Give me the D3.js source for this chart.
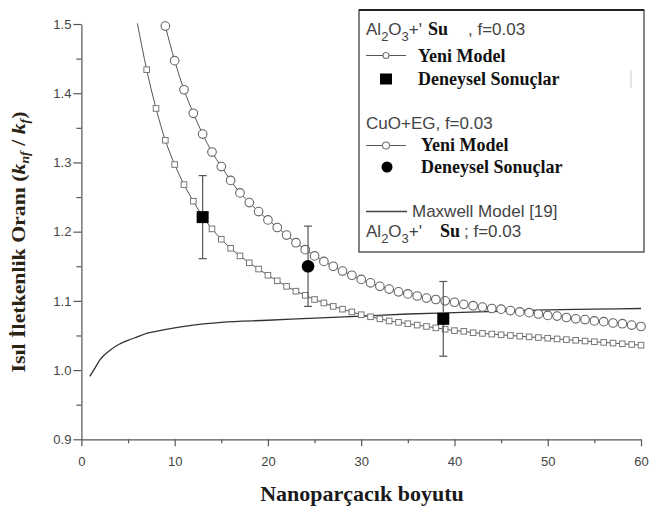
<!DOCTYPE html>
<html lang="tr">
<head>
    <meta charset="UTF-8">
    <title>Isıl İletkenlik Oranı</title>
    <script src="https://d3js.org/d3.v7.min.js"></script>
    <style>
        body {
            margin: 0;
            background: #fff;
        }
        .tick text {
            font-family: Arial, "Liberation Sans", sans-serif;
            font-size: 13px;
            fill: #444;
        }
        .axis path,
        .axis line {
            stroke: #555;
            stroke-width: 1.2;
        }
        .sans {
            font-family: Arial, "Liberation Sans", sans-serif;
            font-size: 17px;
            fill: #444;
        }
        .serif {
            font-family: "Times New Roman", "Liberation Serif", serif;
            font-weight: bold;
            font-size: 18px;
            fill: #111;
        }
    </style>
</head>
<body>
    <svg id="chart" width="653" height="510"></svg>

    <script>
        // Al2O3 + Su, yeni model (kare isaretler). Ilk nokta cizginin cerceveye girdigi yer
        const alSizes = [6, 7, 8, 9, 10, 11, 12, 13, 14, 15, 16, 17, 18, 19, 20, 21, 22, 23, 24, 25,
            26, 27, 28, 29, 30, 31, 32, 33, 34, 35, 36, 37, 38, 39, 40, 41, 42, 43, 44, 45,
            46, 47, 48, 49, 50, 51, 52, 53, 54, 55, 56, 57, 58, 59, 60];
        const alModel = [1.501, 1.434, 1.378, 1.332, 1.297, 1.268, 1.244, 1.222, 1.204, 1.189,
            1.176, 1.165, 1.155, 1.146, 1.137, 1.129, 1.121, 1.114, 1.108, 1.102,
            1.097, 1.092, 1.088, 1.084, 1.080, 1.077, 1.074, 1.071, 1.069, 1.067,
            1.065, 1.063, 1.061, 1.059, 1.057, 1.056, 1.054, 1.053, 1.052, 1.051,
            1.050, 1.049, 1.048, 1.047, 1.046, 1.045, 1.044, 1.043, 1.042, 1.041,
            1.040, 1.039, 1.038, 1.037, 1.036];

        // CuO + EG, yeni model (daire isaretler)
        const cuoSizes = [9, 10, 11, 12, 13, 14, 15, 16, 17, 18, 19, 20, 21, 22, 23, 24, 25, 26,
            27, 28, 29, 30, 31, 32, 33, 34, 35, 36, 37, 38, 39, 40, 41, 42, 43, 44,
            45, 46, 47, 48, 49, 50, 51, 52, 53, 54, 55, 56, 57, 58, 59, 60];
        const cuoModel = [1.497, 1.447, 1.405, 1.371, 1.341, 1.315, 1.294, 1.274, 1.256, 1.242,
            1.229, 1.217, 1.206, 1.195, 1.184, 1.174, 1.165, 1.157, 1.150, 1.143,
            1.137, 1.131, 1.126, 1.121, 1.117, 1.113, 1.110, 1.107, 1.104, 1.102,
            1.100, 1.098, 1.095, 1.093, 1.091, 1.089, 1.088, 1.086, 1.084, 1.083,
            1.081, 1.079, 1.078, 1.076, 1.074, 1.073, 1.071, 1.070, 1.068, 1.067,
            1.065, 1.063];

        // Maxwell modeli
        const maxwellSizes = [0.9, 1.5, 2, 3, 4, 5, 6, 7, 8, 10, 12, 15, 20, 25, 30, 35, 40, 45, 50, 55, 60];
        const maxwellModel = [0.991, 1.004, 1.015, 1.028, 1.037, 1.043, 1.048, 1.053, 1.056, 1.061,
            1.065, 1.069, 1.072, 1.075, 1.078, 1.081, 1.083, 1.085, 1.087, 1.088, 1.089];

        // deneysel sonuclar
        const alExpSizes = [13, 38.8];
        const alExpValues = [1.221, 1.074];
        const alExpErrors = [0.060, 0.054];
        const cuoExpSizes = [24.3];
        const cuoExpValues = [1.150];
        const cuoExpErrors = [0.058];

        const xTicks = [0, 10, 20, 30, 40, 50, 60];
        const xMinorTicks = [5, 15, 25, 35, 45, 55];
        const yTicks = [0.9, 1.0, 1.1, 1.2, 1.3, 1.4, 1.5];
        const yMinorTicks = [0.95, 1.05, 1.15, 1.25, 1.35, 1.45];

        const svg = d3.select("#chart");

        const x = d3.scaleLinear().domain([0, 60]).range([81.4, 641]);
        const y = d3.scaleLinear().domain([0.9, 1.5]).range([439.3, 24]);

        // axes
        svg.append("g")
            .attr("class", "axis")
            .attr("transform", `translate(0, ${y(0.9)})`)
            .call(d3.axisBottom(x).tickValues(xMinorTicks).tickSize(4).tickFormat(""))
            .select(".domain").remove();
        svg.append("g")
            .attr("class", "axis")
            .attr("transform", `translate(${x(0)}, 0)`)
            .call(d3.axisLeft(y).tickValues(yMinorTicks).tickSize(5).tickFormat(""))
            .select(".domain").remove();

        svg.append("g")
            .attr("class", "axis")
            .attr("transform", `translate(0, ${y(0.9)})`)
            .call(d3.axisBottom(x).tickValues(xTicks).tickSize(7).tickSizeOuter(0).tickPadding(10)
                .tickFormat(d3.format("d")));
        svg.append("g")
            .attr("class", "axis")
            .attr("transform", `translate(${x(0)}, 0)`)
            .call(d3.axisLeft(y).tickValues(yTicks).tickSize(8).tickSizeOuter(0).tickPadding(2)
                .tickFormat(d3.format(".1f")));

        const alData = alSizes.map((s, i) => ({ x: s, y: alModel[i] }));
        const cuoData = cuoSizes.map((s, i) => ({ x: s, y: cuoModel[i] }));
        const maxData = maxwellSizes.map((s, i) => ({ x: s, y: maxwellModel[i] }));

        const line = d3.line()
            .x(d => x(d.x))
            .y(d => y(d.y))
            .curve(d3.curveMonotoneX);

        svg.append("path")
            .datum(maxData)
            .attr("d", line)
            .attr("fill", "none")
            .attr("stroke", "#333")
            .attr("stroke-width", 1.3);

        svg.append("path")
            .datum(alData)
            .attr("d", line)
            .attr("fill", "none")
            .attr("stroke", "#555")
            .attr("stroke-width", 1);

        svg.append("path")
            .datum(cuoData)
            .attr("d", line)
            .attr("fill", "none")
            .attr("stroke", "#555")
            .attr("stroke-width", 1);

        // model isaretleri
        const sq = 5.6;
        svg.append("g").selectAll("rect")
            .data(alData.slice(1))
            .enter().append("rect")
            .attr("x", d => x(d.x) - sq / 2)
            .attr("y", d => y(d.y) - sq / 2)
            .attr("width", sq)
            .attr("height", sq)
            .attr("fill", "#fff")
            .attr("stroke", "#777")
            .attr("stroke-width", 1);

        svg.append("g").selectAll("circle")
            .data(cuoData)
            .enter().append("circle")
            .attr("cx", d => x(d.x))
            .attr("cy", d => y(d.y))
            .attr("r", 4.3)
            .attr("fill", "#fff")
            .attr("stroke", "#666")
            .attr("stroke-width", 1.1);

        // hata cubuklari
        const errData = alExpSizes.map((s, i) => ({ x: s, y: alExpValues[i], e: alExpErrors[i] }))
            .concat(cuoExpSizes.map((s, i) => ({ x: s, y: cuoExpValues[i], e: cuoExpErrors[i] })));

        const err = svg.append("g")
            .attr("stroke", "#555")
            .attr("stroke-width", 1.2);
        errData.forEach(d => {
            err.append("line")
                .attr("x1", x(d.x)).attr("x2", x(d.x))
                .attr("y1", y(d.y + d.e)).attr("y2", y(d.y - d.e));
            [d.y + d.e, d.y - d.e].forEach(v => {
                err.append("line")
                    .attr("x1", x(d.x) - 4).attr("x2", x(d.x) + 4)
                    .attr("y1", y(v)).attr("y2", y(v));
            });
        });

        svg.append("g").selectAll("rect")
            .data(alExpSizes.map((s, i) => ({ x: s, y: alExpValues[i] })))
            .enter().append("rect")
            .attr("x", d => x(d.x) - 6)
            .attr("y", d => y(d.y) - 6)
            .attr("width", 12)
            .attr("height", 12)
            .attr("fill", "#000");

        svg.append("g").selectAll("circle")
            .data(cuoExpSizes.map((s, i) => ({ x: s, y: cuoExpValues[i] })))
            .enter().append("circle")
            .attr("cx", d => x(d.x))
            .attr("cy", d => y(d.y))
            .attr("r", 6.3)
            .attr("fill", "#000");

        // lejant
        const lg = svg.append("g");
        lg.append("rect")
            .attr("x", 359).attr("y", 10)
            .attr("width", 285).attr("height", 242)
            .attr("fill", "#fff")
            .attr("stroke", "#333")
            .attr("stroke-width", 1.2);
        lg.append("line")
            .attr("x1", 359).attr("x2", 644)
            .attr("y1", 10).attr("y2", 10)
            .attr("stroke", "#222").attr("stroke-width", 2.2);
        lg.append("line")
            .attr("x1", 631).attr("x2", 631)
            .attr("y1", 70).attr("y2", 88)
            .attr("stroke", "#ccc").attr("stroke-width", 1);

        function formula(yy) {
            const t = lg.append("text").attr("class", "sans").attr("x", 366).attr("y", yy);
            t.append("tspan").text("Al");
            t.append("tspan").attr("dy", 6).attr("font-size", 13).text("2");
            t.append("tspan").attr("dy", -6).text("O");
            t.append("tspan").attr("dy", 6).attr("font-size", 13).text("3");
            t.append("tspan").attr("dy", -6).text("+'");
        }

        function modelSymbol(yy, r) {
            lg.append("line")
                .attr("x1", 366).attr("x2", 406)
                .attr("y1", yy).attr("y2", yy)
                .attr("stroke", "#555").attr("stroke-width", 1.2);
            lg.append("circle")
                .attr("cx", 386).attr("cy", yy).attr("r", r)
                .attr("fill", "#fff").attr("stroke", "#777").attr("stroke-width", 1.1);
        }

        formula(35);
        lg.append("text").attr("class", "serif").attr("x", 428).attr("y", 35).text("Su");
        lg.append("text").attr("class", "sans").attr("x", 468).attr("y", 35).text(", f=0.03");

        modelSymbol(55.5, 3);
        lg.append("text").attr("class", "serif").attr("x", 418).attr("y", 62).text("Yeni Model");

        lg.append("rect")
            .attr("x", 380).attr("y", 73.5).attr("width", 12).attr("height", 11)
            .attr("fill", "#000");
        lg.append("text").attr("class", "serif").attr("x", 418).attr("y", 85).text("Deneysel Sonuçlar");

        lg.append("text").attr("class", "sans").attr("x", 366).attr("y", 129).text("CuO+EG, f=0.03");

        modelSymbol(145.5, 3.5);
        lg.append("text").attr("class", "serif").attr("x", 421).attr("y", 151).text("Yeni Model");

        lg.append("circle").attr("cx", 387).attr("cy", 167).attr("r", 5.5).attr("fill", "#000");
        lg.append("text").attr("class", "serif").attr("x", 421).attr("y", 173).text("Deneysel Sonuçlar");

        lg.append("line")
            .attr("x1", 366).attr("x2", 407)
            .attr("y1", 211.5).attr("y2", 211.5)
            .attr("stroke", "#444").attr("stroke-width", 1.3);
        lg.append("text").attr("class", "sans").attr("x", 412).attr("y", 217).text("Maxwell Model [19]");

        formula(237);
        lg.append("text").attr("class", "serif").attr("x", 440).attr("y", 237).text("Su");
        lg.append("text").attr("class", "sans").attr("x", 464).attr("y", 237).text("; f=0.03");

        // eksen basliklari
        svg.append("text")
            .attr("class", "serif")
            .attr("x", 362)
            .attr("y", 501)
            .attr("text-anchor", "middle")
            .style("font-size", "22px")
            .style("fill", "#1a1a1a")
            .text("Nanoparçacık boyutu");

        const yg = svg.append("g");
        const yt = yg.append("text")
            .attr("class", "serif")
            .attr("text-anchor", "middle")
            .style("font-size", "19px")
            .style("fill", "#2b2414");
        yt.append("tspan").text("Isıl İletkenlik Oranı (");
        yt.append("tspan").attr("font-style", "italic").text("k");
        yt.append("tspan").attr("font-style", "italic").attr("font-size", 12).attr("dy", 4).text("nf");
        yt.append("tspan").attr("dy", -4).text(" / ");
        yt.append("tspan").attr("font-style", "italic").text("k");
        yt.append("tspan").attr("font-style", "italic").attr("font-size", 12).attr("dy", 4).text("f");
        yt.append("tspan").attr("dy", -4).text(")");

        // stretch the title along its length to the span seen in the figure
        const len = yt.node().getComputedTextLength();
        const stretch = len > 0 ? 261 / len : 1;
        yg.attr("transform", `translate(25, 242) rotate(-90) scale(${stretch}, 1)`);
    </script>
</body>
</html>
